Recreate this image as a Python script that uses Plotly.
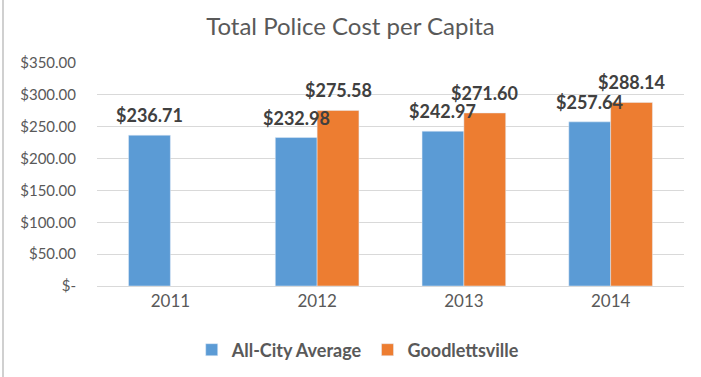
import plotly.graph_objects as go

YEARS = ["2011", "2012", "2013", "2014"]
ALL_CITY = [236.71, 232.98, 242.97, 257.64]
GOODLETTSVILLE = [None, 275.58, 271.60, 288.14]
Y_TICKS = [0, 50, 100, 150, 200, 250, 300, 350]
Y_TICK_TEXT = ["$-", "$50.00", "$100.00", "$150.00", "$200.00", "$250.00", "$300.00", "$350.00"]

BLUE = "#5B9BD5"
ORANGE = "#ED7D31"
FONT = "Lato, 'Open Sans', sans-serif"

PLOT_H = 223  # plot area height in px
PLOT_W = 587
BAR_OFFSET = 21  # px from category centre to each bar's centre


def money(v):
    return f"${v:,.2f}"


fig = go.Figure()
series = [("All-City Average", ALL_CITY, BLUE, -BAR_OFFSET),
          ("Goodlettsville", GOODLETTSVILLE, ORANGE, BAR_OFFSET)]
for name, vals, color, _ in series:
    fig.add_trace(go.Bar(x=YEARS, y=vals, name=name, marker=dict(color=color)))

# value labels as annotations so they sit on top of neighbouring bars (like Excel)
# numeric-looking year strings get read as category indices, so pass the index
for name, vals, color, shift in series:
    for i, v in enumerate(vals):
        if v is None:
            continue
        fig.add_annotation(x=i, y=v, text=money(v), showarrow=False,
                           xshift=shift, yshift=7, yanchor="bottom",
                           font=dict(size=18, color="#404040", family=FONT,
                                     weight="bold"))

# thin grey frame line on the left edge, as in the source picture
fig.add_shape(type="line", xref="paper", yref="paper",
              x0=-94 / PLOT_W, x1=-94 / PLOT_W,
              y0=-91 / PLOT_H, y1=(PLOT_H + 63) / PLOT_H,
              line=dict(color="#D0D0D0", width=2))

fig.update_layout(
    width=701, height=377,
    margin=dict(l=97, r=17, t=63, b=91, autoexpand=False),
    title=dict(text="Total Police Cost per Capita", x=0.5, xanchor="center",
               y=1 - 27 / 377, yanchor="middle",
               font=dict(size=24, color="#595959", family=FONT)),
    barmode="group", bargap=0.43, bargroupgap=0,
    plot_bgcolor="white", paper_bgcolor="white",
    font=dict(family=FONT, color="#595959", size=13),
    showlegend=True,
    legend=dict(orientation="h", x=0.445, xanchor="center",
                y=-64 / PLOT_H, yanchor="middle",
                font=dict(size=18, color="#595959", weight="bold"),
                traceorder="normal"),
)
fig.update_xaxes(type="category", range=[-0.5, len(YEARS) - 0.5],
                 showline=True, linecolor="#D9D9D9", linewidth=1,
                 tickfont=dict(size=17, color="#595959"), ticks="")
fig.update_yaxes(range=[0, 350], tickvals=Y_TICKS, ticktext=Y_TICK_TEXT,
                 showgrid=True, gridcolor="#D9D9D9", gridwidth=1,
                 zeroline=False, showline=False, ticks="",
                 tickfont=dict(size=15, color="#595959"), ticklabelstandoff=20)

# drop the default page margin so the figure sits at the window's corner
fig.write_html("out.html", config={"displayModeBar": False},
               post_script="document.body.style.margin='0';")
